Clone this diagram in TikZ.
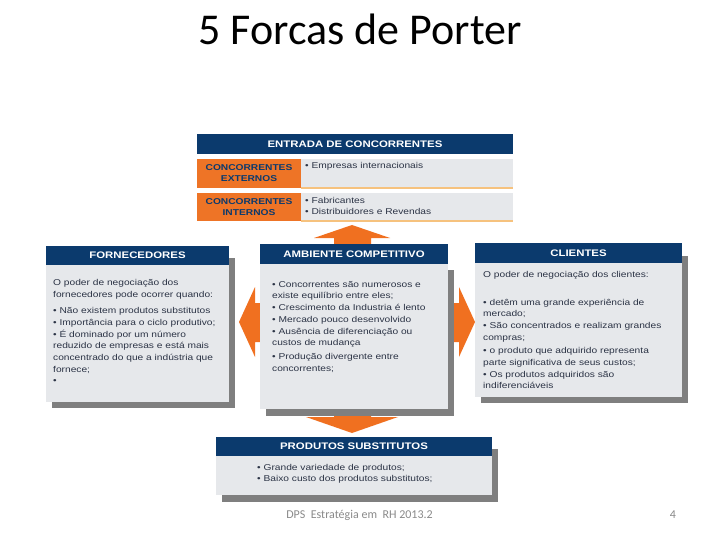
\documentclass[tikz,border=0pt]{standalone}
\usepackage{fontspec}
\setmainfont{Liberation Sans}
\newfontfamily\bodyf[FakeStretch=1.2]{Liberation Sans}
\newfontfamily\titlef{Carlito}
\usetikzlibrary{calc}
\definecolor{navy}{HTML}{0B3A6D}
\definecolor{orng}{HTML}{F07020}
\definecolor{orbox}{HTML}{EE7426}
\definecolor{boxgray}{HTML}{E6E8EB}
\definecolor{shd}{HTML}{7F7F7F}
\definecolor{txt}{HTML}{2B3345}
\definecolor{gold}{HTML}{F6C27E}
\definecolor{foot}{HTML}{8A8A8A}
\begin{document}
\begin{tikzpicture}[x=1pt,y=-1pt,
  hdr/.style={fill=navy, text=white, font=\bodyf\bfseries\fontsize{9.5}{11}\selectfont, inner sep=0pt, outer sep=0pt, anchor=north west},
  bodybox/.style={fill=boxgray, inner sep=0pt, outer sep=0pt, anchor=north west},
  orbx/.style={fill=orbox, text=navy, font=\bodyf\bfseries\fontsize{8.5}{11}\selectfont, align=center, inner sep=0pt, outer sep=0pt, anchor=north west},
  graybx/.style={fill=boxgray, inner sep=0pt, outer sep=0pt, anchor=north west},
  btxt/.style={text=txt, font=\bodyf\fontsize{8.5}{11.7}\selectfont, align=left, inner sep=0pt, anchor=north west},
  shadowc/.style={fill=shd},
  arrowc/.style={fill=orng}]
\useasboundingbox (0,0) rectangle (720,540);
\fill[white] (0,0) rectangle (720,540);

% title
\node[anchor=base, inner sep=0pt] (title) at (360,45) {\titlef\fontsize{44}{50}\selectfont 5 Forcas de Porter};

% arrows (behind)
\fill[arrowc] (352,225) -- (390,238) -- (371,238) -- (371,330) -- (334,330) -- (334,238) -- (314,238) -- cycle;
\fill[arrowc] (352,433) -- (398,417) -- (371,417) -- (371,320) -- (334,320) -- (334,417) -- (306,417) -- cycle;
\fill[arrowc] (239,322) -- (255,287) -- (255,303) -- (352,303) -- (352,342) -- (255,342) -- (255,357) -- cycle;
\fill[arrowc] (475,322) -- (459,287) -- (459,303) -- (352,303) -- (352,342) -- (459,342) -- (459,357) -- cycle;

% ENTRADA DE CONCORRENTES
\node[hdr, minimum width=316pt, minimum height=20pt] (eh) at (197,134) {ENTRADA DE CONCORRENTES};
\node[orbx, minimum width=104pt, minimum height=29pt] (ext) at (197,159) {CONCORRENTES\\EXTERNOS};
\node[graybx, minimum width=212pt, minimum height=29pt] (extg) at (301,159) {};
\draw[gold, line width=1.5pt] (extg.south west) -- (extg.south east);
\node[btxt] (extt) at (305,162) {• Empresas internacionais};
\node[orbx, minimum width=104pt, minimum height=28pt] (int) at (197,193) {CONCORRENTES\\INTERNOS};
\node[graybx, minimum width=212pt, minimum height=28pt] (intg) at (301,193) {};
\draw[gold, line width=1.5pt] (intg.south west) -- (intg.south east);
\node[btxt, font=\bodyf\fontsize{8.5}{11}\selectfont] (intt) at (305,197) {• Fabricantes\\• Distribuidores e Revendas};

% shadows
\fill[shadowc] (52,258) rectangle (235,408);
\fill[shadowc] (266,270) rectangle (454,416);
\fill[shadowc] (481,256) rectangle (688,403);
\fill[shadowc] (222,449) rectangle (498,502);

% FORNECEDORES
\node[bodybox, minimum width=183pt, minimum height=137pt] (fb) at (46,265) {};
\node[hdr, minimum width=183pt, minimum height=19pt] (fh) at (46,246) {FORNECEDORES};
\node[btxt] (ft) at (53,279) {O poder de negociação dos\\fornecedores pode ocorrer quando:\\[5pt]• Não existem produtos substitutos\\• Importância para o ciclo produtivo;\\• É dominado por um número\\reduzido de empresas e está mais\\concentrado do que a indústria que\\fornece;\\•};

% AMBIENTE COMPETITIVO
\node[bodybox, minimum width=188pt, minimum height=145pt] (ab) at (260,264) {};
\node[hdr, minimum width=188pt, minimum height=20pt] (ah) at (260,244) {AMBIENTE COMPETITIVO};
\node[btxt] (at) at (272,281) {• Concorrentes são numerosos e\\existe equilíbrio entre eles;\\• Crescimento da Industria é lento\\• Mercado pouco desenvolvido\\• Ausência de diferenciação ou\\custos de mudança\\[2pt]• Produção divergente entre\\concorrentes;};

% CLIENTES
\node[bodybox, minimum width=207pt, minimum height=134pt] (cb) at (475,263) {};
\node[hdr, minimum width=207pt, minimum height=20pt] (ch) at (475,243) {CLIENTES};
\node[btxt] (ct) at (483,271) {O poder de negociação dos clientes:\\[16pt]• detêm uma grande experiência de\\mercado;\\• São concentrados e realizam grandes\\compras;\\[2pt]• o produto que adquirido representa\\parte significativa de seus custos;\\• Os produtos adquiridos são\\indiferenciáveis};

% PRODUTOS SUBSTITUTOS
\node[bodybox, minimum width=276pt, minimum height=39pt] (pb) at (216,456) {};
\node[hdr, minimum width=276pt, minimum height=19pt] (ph) at (216,437) {PRODUTOS SUBSTITUTOS};
\node[btxt, font=\bodyf\fontsize{8.5}{11}\selectfont] (pt) at (257,464) {• Grande variedade de produtos;\\• Baixo custo dos produtos substitutos;};

% footer
\node[anchor=base, inner sep=0pt, text=foot] (foot) at (359.5,518) {\titlef\fontsize{12}{14}\selectfont DPS\ \ Estratégia em\ \ RH 2013.2};
\node[anchor=base, inner sep=0pt, text=foot] (pg) at (673,518) {\titlef\fontsize{12}{14}\selectfont 4};
\end{tikzpicture}
\end{document}
